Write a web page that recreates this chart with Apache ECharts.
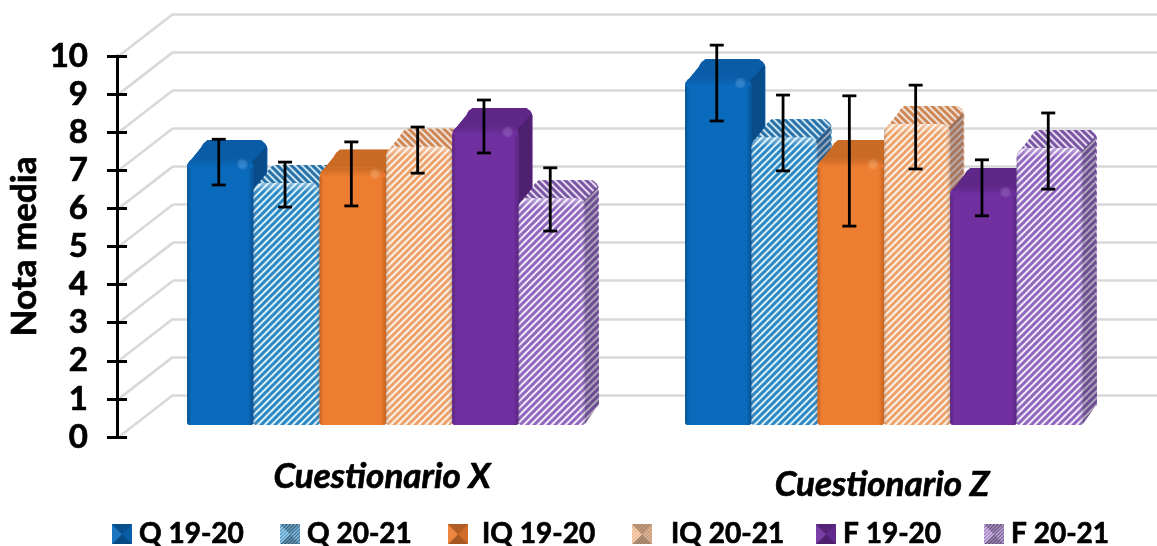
<!DOCTYPE html>
<html><head><meta charset="utf-8">
<style>html,body{margin:0;padding:0;background:#fff}#c{width:1157px;height:546px}</style>
<script src="https://cdn.jsdelivr.net/npm/echarts@6/dist/echarts.min.js"></script>
</head><body><div id="c"></div>
<script>
var categories = ['Cuestionario X', 'Cuestionario Z'];
var seriesNames = ['Q 19-20', 'Q 20-21', 'IQ 19-20', 'IQ 20-21', 'F 19-20', 'F 20-21'];
var q1920 = [7.0, 9.13];
var q2021 = [6.35, 7.55];
var iq1920 = [6.75, 7.0];
var iq2021 = [7.3, 7.9];
var f1920 = [7.85, 6.27];
var f2021 = [5.95, 7.27];
var errLow = [[6.3, 7.98], [5.72, 6.67], [5.75, 5.22], [6.61, 6.72], [7.14, 5.49], [5.09, 6.19]];
var errHigh = [[7.5, 9.97], [6.9, 8.66], [7.43, 8.64], [7.82, 8.92], [8.53, 6.96], [6.75, 8.19]];
var yTicks = [0, 1, 2, 3, 4, 5, 6, 7, 8, 9, 10];
var allValues = [q1920, q2021, iq1920, iq2021, f1920, f2021];
var legendLeft = [112, 280, 448, 632, 816, 984];
var legendTextGap = [2, 2, 9, 14, 2, 2];
var categoryPadding = [[0, 8, 0, 0], [8, 4, 0, 0]];

var palette = [
  {main:'#0A6ABC', top:'#0A5CA6', side:'#084C8A', edge:'#085290', hi:'rgba(60,160,240,0.5)'},
  {main:'#2E86C1', bg:'#D6F0FB', top:'#2678B0', hatch:true},
  {main:'#ED7D31', top:'#C96A25', side:'#A9561C', edge:'#C9651F', hi:'rgba(255,170,90,0.5)'},
  {main:'#EBA36B', bg:'#FDF0E5', top:'#D98F55', hatch:true},
  {main:'#7030A0', top:'#5F2888', side:'#4E2070', edge:'#5A2582', hi:'rgba(150,90,210,0.45)'},
  {main:'#8F66BE', bg:'#F1E9F8', top:'#7F58AC', hatch:true}
];
function stripes(fg, bg, mirror) {
  var s = 7, c = document.createElement('canvas'); c.width = s; c.height = s;
  var g = c.getContext('2d'); g.fillStyle = bg; g.fillRect(0, 0, s, s);
  if (mirror) { g.translate(s, 0); g.scale(-1, 1); }
  g.strokeStyle = fg; g.lineWidth = 3;
  [[-s, s, s, -s], [0, s, s, 0], [0, 2 * s, 2 * s, 0]].forEach(function (l) {
    g.beginPath(); g.moveTo(l[0], l[1]); g.lineTo(l[2], l[3]); g.stroke();
  });
  return c;
}
function legendIcon(p) {
  var s = 40, c = document.createElement('canvas'); c.width = s; c.height = s;
  var g = c.getContext('2d');
  g.fillStyle = p.hatch ? g.createPattern(stripes(p.main, p.bg), 'repeat') : p.main;
  g.fillRect(0, 0, s, s);
  function tri(a, b, col) {
    g.fillStyle = col; g.beginPath(); g.moveTo(a[0], a[1]); g.lineTo(b[0], b[1]); g.lineTo(s / 2, s / 2); g.fill();
  }
  tri([0, 0], [s, 0], 'rgba(0,0,0,0.25)');
  tri([0, s], [s, s], 'rgba(0,0,0,0.3)');
  tri([0, 0], [0, s], 'rgba(255,255,255,0.08)');
  tri([s, 0], [s, s], 'rgba(0,0,0,0.12)');
  return 'image://' + c.toDataURL();
}
var fills = palette.map(function (p) {
  return p.hatch ? {image: stripes(p.main, p.bg), repeat: 'repeat'} : p.main;
});
var topFills = palette.map(function (p) {
  return p.hatch ? {image: stripes(p.top, p.bg, true), repeat: 'repeat'} : p.top;
});

var DX = 14, DY = -18, BAR = 66.3 / 498;

function barRender(si) {
  var p = palette[si];
  return function (params, api) {
    var base = api.coord([api.value(0), 0]);
    var topP = api.coord([api.value(0), api.value(1)]);
    var w = api.size([1, 0])[0] * BAR;
    var x0 = base[0] + (si - 3) * w, x1 = x0 + w, yT = topP[1], yB = base[1];
    var kids = [];
    var fill = fills[si], topFill = topFills[si];
    function poly(pts, f) {
      kids.push({type: 'polygon', shape: {points: pts}, style: {fill: f}, silent: true});
    }
    function rrect(x, y, wd, h, f, r) {
      kids.push({type: 'rect', shape: {x: x, y: y, width: wd, height: h, r: r}, style: {fill: f}, silent: true});
    }
    var rB = [9, 9, 3, 3];
    var topPts = [[x0 + 2, yT + 4], [x0 + DX + 6, yT + DY], [x1 + DX - 6, yT + DY], [x1 + DX, yT + DY + 8], [x1, yT + 8], [x1 - 6, yT + 2]];
    var sidePts = [[x1 - 2, yT + 4], [x1 + DX - 1, yT + DY + 6], [x1 + DX, yB + DY - 3], [x1, yB - 1]];
    rrect(x0 + DX, yT + DY, w, yB - yT, topFill, rB);
    poly(topPts, topFill);
    poly(sidePts, fill);
    var sideShade = p.hatch ? 'rgba(30,20,50,0.32)' : p.side;
    var topShade = p.hatch ? 'rgba(30,20,50,0.06)' : p.top;
    poly(topPts, topShade);
    poly(sidePts, sideShade);
    rrect(x0, yT, w, yB - yT, fill, rB);
    var e1 = p.hatch ? 'rgba(30,30,60,0.22)' : p.edge, clear = p.hatch ? 'rgba(255,255,255,0)' : p.main;
    rrect(x0, yT, w, yB - yT, {
      type: 'linear', x: 0, y: 0, x2: 1, y2: 0,
      colorStops: [{offset: 0, color: e1}, {offset: 0.06, color: clear}, {offset: 0.92, color: clear}, {offset: 1, color: e1}]
    }, rB);
    var bevelFrom = p.hatch ? 'rgba(255,255,255,0.45)' : p.top;
    rrect(x0, yT, w, 9, {
      type: 'linear', x: 0, y: 0, x2: 0, y2: 1,
      colorStops: [{offset: 0, color: bevelFrom}, {offset: 1, color: p.hatch ? 'rgba(255,255,255,0)' : p.main}]
    }, [9, 9, 0, 0]);
    if (p.hi) {
      kids.push({type: 'circle', shape: {cx: x1 - 11, cy: yT + 6, r: 6}, silent: true, style: {
        fill: {type: 'radial', x: 0.5, y: 0.5, r: 0.5, colorStops: [{offset: 0, color: p.hi}, {offset: 1, color: 'rgba(255,255,255,0)'}]}
      }});
    }
    return {type: 'group', children: kids};
  };
}
function errRender(params, api) {
  var cat = api.value(0), si = api.value(1);
  var lo = api.coord([cat, api.value(2)]), hi = api.coord([cat, api.value(3)]);
  var w = api.size([1, 0])[0] * BAR;
  var x = lo[0] + (si - 2.5) * w - 1.5;
  var st = {stroke: '#000', lineWidth: 2.8, fill: 'none'};
  function ln(a, b, c, d) { return {type: 'line', shape: {x1: a, y1: b, x2: c, y2: d}, style: st, silent: true}; }
  return {type: 'group', children: [ln(x, lo[1], x, hi[1]), ln(x - 7, lo[1], x + 7, lo[1]), ln(x - 7, hi[1], x + 7, hi[1])]};
}
function diagRender(params, api) {
  var p = api.coord([0, api.value(0)]);
  return {type: 'line', silent: true, shape: {x1: p[0] + 3, y1: p[1] - 1, x2: p[0] + 56, y2: p[1] - 42},
    style: {stroke: '#D9D9D9', lineWidth: 2.6}};
}
var errData = [];
errLow.forEach(function (row, si) {
  row.forEach(function (v, cat) { errData.push([cat, si, v, errHigh[si][cat]]); });
});

var series = [{
  type: 'custom', name: 'walls', xAxisIndex: 0, yAxisIndex: 0, z: 1, silent: true,
  renderItem: diagRender, data: yTicks.map(function (v) { return [v]; }), encode: {y: 0}
}];
seriesNames.forEach(function (n, si) {
  series.push({
    type: 'custom', name: n, xAxisIndex: 1, yAxisIndex: 2, z: 3 + si,
    renderItem: barRender(si), encode: {x: 0, y: 1},
    data: allValues[si].map(function (v, c) { return [c, v]; })
  });
});
series.push({type: 'custom', name: 'error', xAxisIndex: 1, yAxisIndex: 2, z: 20, silent: true,
  renderItem: errRender, data: errData, encode: {x: 0, y: [2, 3]}});

var FONT = 'Lato';
var heavy = {textBorderColor: '#000', textBorderWidth: 0.7};
var chart = echarts.init(document.getElementById('c'), null, {renderer: 'canvas'});
chart.setOption({
  animation: false,
  backgroundColor: '#fff',
  grid: [
    {left: 117, top: 56, width: 40, height: 381},
    {left: 137, top: 44, width: 996, height: 381},
    {left: 173, top: 14, width: 984, height: 381}
  ],
  xAxis: [
    {gridIndex: 0, type: 'value', show: false, min: 0, max: 1},
    {gridIndex: 1, type: 'category',
      data: categories.map(function (c, i) { return {value: c, textStyle: {padding: categoryPadding[i]}}; }),
      axisLine: {show: false}, axisTick: {show: false},
      axisLabel: Object.assign({margin: 34, fontFamily: FONT, fontSize: 35, fontWeight: 'bold', fontStyle: 'italic', color: '#000'}, heavy)},
    {gridIndex: 2, type: 'value', show: false, min: 0, max: 1}
  ],
  yAxis: [
    {gridIndex: 0, type: 'value', min: 0, max: 10, interval: 1, name: 'Nota media', nameLocation: 'middle', nameGap: 75, nameRotate: 90,
      nameTextStyle: Object.assign({fontFamily: FONT, fontSize: 35, fontWeight: 'bold', color: '#000'}, heavy),
      axisLine: {show: true, lineStyle: {color: '#000', width: 3}},
      axisTick: {show: true, length: 10, lineStyle: {color: '#000', width: 3}},
      axisLabel: Object.assign({margin: 29, fontFamily: FONT, fontSize: 33, fontWeight: 'bold', color: '#000', padding: [9, 0, 0, 0]}, heavy),
      splitLine: {show: false}, z: 10},
    {gridIndex: 0, type: 'value', position: 'left', min: 0, max: 10, interval: 1,
      axisLine: {show: false}, axisLabel: {show: false}, splitLine: {show: false},
      axisTick: {show: true, inside: true, length: 10, lineStyle: {color: '#000', width: 3}}, z: 10},
    {gridIndex: 1, type: 'value', show: false, min: 0, max: 10},
    {gridIndex: 2, type: 'value', min: 0, max: 10, interval: 1, axisLine: {show: false}, axisTick: {show: false}, axisLabel: {show: false},
      splitLine: {show: true, lineStyle: {color: '#D9D9D9', width: 2.6}}}
  ],
  legend: seriesNames.map(function (n, i) {
    return {
      left: legendLeft[i], top: 520, padding: 0, itemWidth: 20, itemHeight: 20, selectedMode: false,
      textStyle: Object.assign({fontFamily: FONT, fontSize: 28, fontWeight: 'bold', color: '#000', padding: [0, 0, 0, legendTextGap[i]]}, heavy),
      data: [{name: n, icon: legendIcon(palette[i])}]
    };
  }),
  series: series
});
</script></body></html>
